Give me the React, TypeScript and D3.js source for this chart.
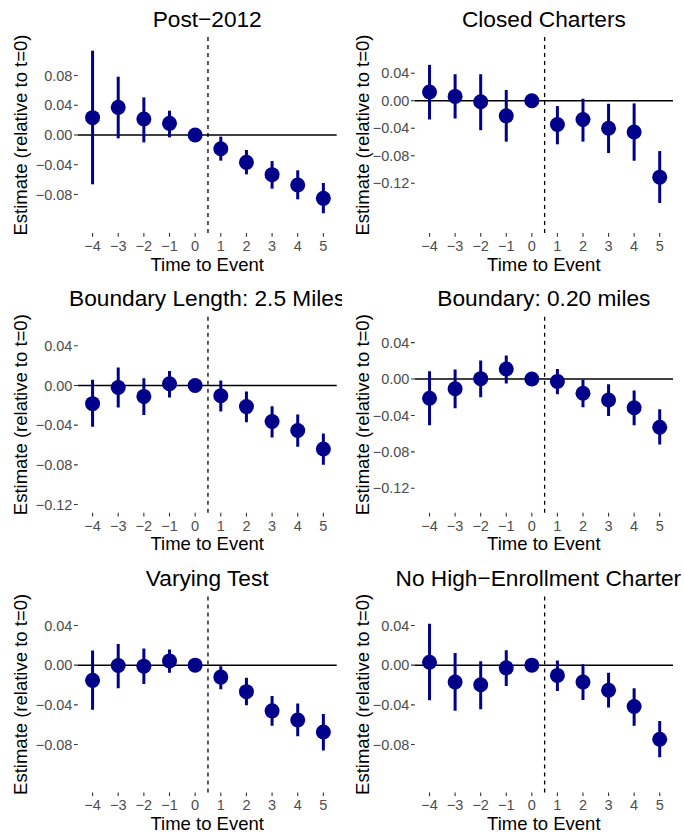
import React from "react";
import * as d3 from "d3";

// ---------- data ----------
const times = [-4, -3, -2, -1, 0, 1, 2, 3, 4, 5];
const xTickLabels = ["\u22124", "\u22123", "\u22122", "\u22121", "0", "1", "2", "3", "4", "5"];

const titles = [
  "Post\u22122012",
  "Closed Charters",
  "Boundary Length: 2.5 Miles",
  "Boundary: 0.20 miles",
  "Varying Test",
  "No High\u2212Enrollment Charter",
];

const post2012Est = [0.0233, 0.0372, 0.0215, 0.0157, 0, -0.0184, -0.0368, -0.0533, -0.0672, -0.0852];
const post2012Lo = [-0.0663, -0.0045, -0.0099, -0.0031, 0, -0.0345, -0.0529, -0.0722, -0.0865, -0.1053];
const post2012Hi = [0.1134, 0.0784, 0.0506, 0.0327, 0, -0.0022, -0.0202, -0.035, -0.0475, -0.0645];

const closedEst = [0.0127, 0.0063, -0.0015, -0.022, 0, -0.0346, -0.0273, -0.04, -0.0454, -0.1112];
const closedLo = [-0.0273, -0.0259, -0.0429, -0.0595, 0, -0.0634, -0.0595, -0.0761, -0.0873, -0.1488];
const closedHi = [0.0522, 0.0385, 0.0385, 0.0156, 0, -0.0078, 0.0029, -0.0044, -0.0039, -0.0732];

const bl25Est = [-0.0183, -0.002, -0.011, 0.0017, 0, -0.0103, -0.0213, -0.0363, -0.0453, -0.064];
const bl25Lo = [-0.0417, -0.0223, -0.0297, -0.012, 0, -0.0263, -0.037, -0.0523, -0.0617, -0.08];
const bl25Hi = [0.0057, 0.018, 0.0073, 0.0147, 0, 0.005, -0.006, -0.021, -0.0293, -0.0483];

const b020Est = [-0.0211, -0.0107, 0.0004, 0.0111, 0, -0.0026, -0.0156, -0.023, -0.0315, -0.053];
const b020Lo = [-0.0507, -0.0322, -0.02, -0.0048, 0, -0.0167, -0.0311, -0.0407, -0.0507, -0.0719];
const b020Hi = [0.0085, 0.0104, 0.0204, 0.0259, 0, 0.0111, -0.0007, -0.0056, -0.0126, -0.0333];

const varyEst = [-0.0153, -0.0003, -0.001, 0.0043, 0, -0.012, -0.0267, -0.046, -0.0553, -0.0673];
const varyLo = [-0.045, -0.0233, -0.019, -0.0077, 0, -0.0243, -0.0403, -0.061, -0.0717, -0.086];
const varyHi = [0.0147, 0.0213, 0.0167, 0.0157, 0, -0.001, -0.0127, -0.031, -0.0387, -0.0493];

const noHighEst = [0.003, -0.017, -0.0197, -0.0027, 0, -0.0103, -0.017, -0.0253, -0.0417, -0.0747];
const noHighLo = [-0.0353, -0.046, -0.0443, -0.021, 0, -0.026, -0.035, -0.0427, -0.061, -0.0927];
const noHighHi = [0.0417, 0.0123, 0.004, 0.015, 0, 0.0047, 0.001, -0.0077, -0.0233, -0.0563];

const yTicks1 = [-0.08, -0.04, 0, 0.04, 0.08];
const yTicks2 = [-0.12, -0.08, -0.04, 0, 0.04];
const yTicks3 = [-0.12, -0.08, -0.04, 0, 0.04];
const yTicks4 = [-0.12, -0.08, -0.04, 0, 0.04];
const yTicks5 = [-0.08, -0.04, 0, 0.04];
const yTicks6 = [-0.08, -0.04, 0, 0.04];

const yDomains: [number, number][] = [
  [-0.1318, 0.1318],
  [-0.1924, 0.0927],
  [-0.1282, 0.0693],
  [-0.1469, 0.0685],
  [-0.1282, 0.0693],
  [-0.1282, 0.0693],
];

const panels = [
  { est: post2012Est, lo: post2012Lo, hi: post2012Hi, ticks: yTicks1 },
  { est: closedEst, lo: closedLo, hi: closedHi, ticks: yTicks2 },
  { est: bl25Est, lo: bl25Lo, hi: bl25Hi, ticks: yTicks3 },
  { est: b020Est, lo: b020Lo, hi: b020Hi, ticks: yTicks4 },
  { est: varyEst, lo: varyLo, hi: varyHi, ticks: yTicks5 },
  { est: noHighEst, lo: noHighLo, hi: noHighHi, ticks: yTicks6 },
];

// ---------- layout ----------
const W = 684;
const H = 836;
const CELL_W = 342;
const ROW_STEP = 279.7;
const FONT = "'Liberation Sans', Arial, Helvetica, sans-serif";
const NAVY = "#00008B";

const fmt = (v: number) => {
  const s = Math.abs(v).toFixed(2);
  return (v < 0 ? "\u2212" : "") + s;
};

function Panel({ idx }: { idx: number }) {
  const col = idx % 2;
  const row = Math.floor(idx / 2);
  const p = panels[idx];
  const left = col === 0 ? 77.7 : 72.7;
  const right = col === 0 ? 336.7 : 331;
  const top = 37;
  const bottom = 233;

  const x = d3.scaleLinear().domain([-4.58, 5.52]).range([left, right]);
  const y = d3.scaleLinear().domain(yDomains[idx]).range([bottom, top]);
  const cx = (left + right) / 2;
  const cy = (top + bottom) / 2;
  // last title: left-anchored where the (clipped) centred title starts
  const titleProps =
    idx === 5
      ? { x: 53.5, textAnchor: "start" as const }
      : { x: cx, textAnchor: "middle" as const };

  return (
    <svg
      x={col * CELL_W}
      y={row * ROW_STEP}
      width={CELL_W}
      height={ROW_STEP + 1}
      overflow="hidden"
    >
      {/* title */}
      <text {...titleProps} y={26.5} fontSize={22.7} fill="#000">
        {titles[idx]}
      </text>

      {/* y-axis ticks & labels */}
      {p.ticks.map((t) => (
        <g key={t}>
          <line x1={left - 3.7} x2={left} y1={y(t)} y2={y(t)} stroke="#333" strokeWidth={1.1} />
          <text
            x={left - 5.3}
            y={y(t)}
            dy="0.36em"
            textAnchor="end"
            fontSize={14.5}
            fill="#4D4D4D"
          >
            {fmt(t)}
          </text>
        </g>
      ))}

      {/* x-axis ticks & labels */}
      {times.map((t, i) => (
        <g key={t}>
          <line x1={x(t)} x2={x(t)} y1={bottom} y2={bottom + 3.7} stroke="#333" strokeWidth={1.1} />
          <text x={x(t)} y={251} textAnchor="middle" fontSize={14.5} fill="#4D4D4D">
            {xTickLabels[i]}
          </text>
        </g>
      ))}

      {/* axis titles */}
      <text x={cx} y={270.7} textAnchor="middle" fontSize={18.5} fill="#000">
        Time to Event
      </text>
      <text
        transform={`translate(26.7, ${cy}) rotate(-90)`}
        textAnchor="middle"
        fontSize={18.5}
        fill="#000"
      >
        Estimate (relative to t=0)
      </text>

      {/* reference lines */}
      <line
        x1={x(0.5)}
        x2={x(0.5)}
        y1={top}
        y2={bottom}
        stroke="#000"
        strokeWidth={1.3}
        strokeDasharray="4,4"
      />
      <line x1={left} x2={right} y1={y(0)} y2={y(0)} stroke="#000" strokeWidth={1.5} />

      {/* error bars */}
      {times.map((t, i) => (
        <line
          key={"e" + t}
          x1={x(t)}
          x2={x(t)}
          y1={y(p.lo[i])}
          y2={y(p.hi[i])}
          stroke={NAVY}
          strokeWidth={3}
        />
      ))}
      {/* points */}
      {times.map((t, i) => (
        <circle key={"p" + t} cx={x(t)} cy={y(p.est[i])} r={7.5} fill={NAVY} />
      ))}
    </svg>
  );
}

export default function App() {
  return (
    <svg
      width={W}
      height={H}
      style={{ position: "absolute", left: 0, top: 0, background: "#fff" }}
      fontFamily={FONT}
    >
      <rect width={W} height={H} fill="#fff" />
      {panels.map((_, i) => (
        <Panel key={i} idx={i} />
      ))}
    </svg>
  );
}
